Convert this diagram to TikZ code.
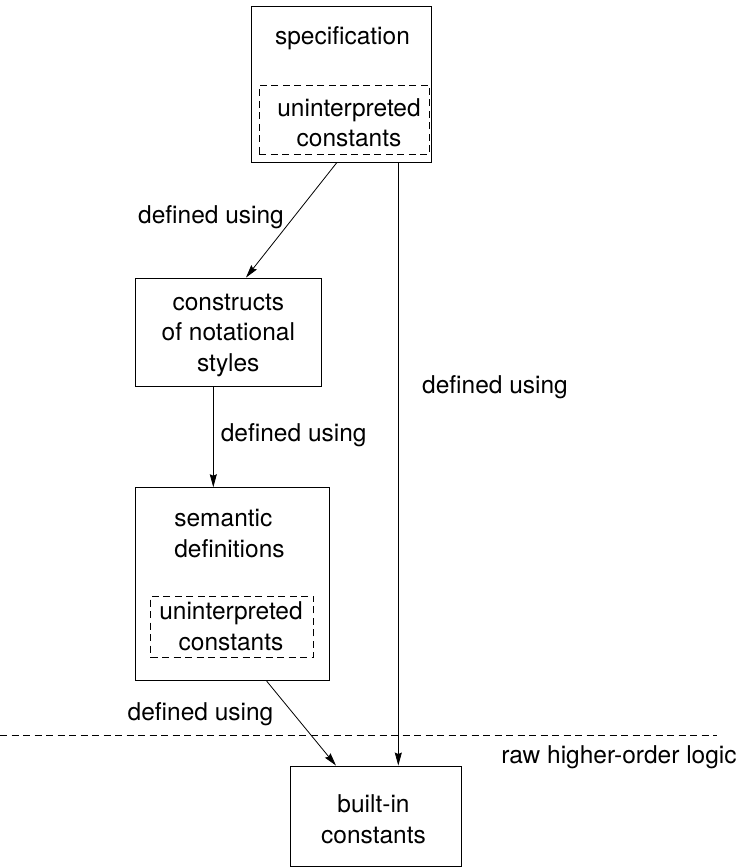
\documentclass[tikz,border=0pt]{standalone}
\usepackage{fontspec}
\setmainfont{TeX Gyre Heros}
\usetikzlibrary{arrows.meta,calc}

\begin{document}
\begin{tikzpicture}[x=1pt,y=-1pt,
  every node/.style={font=\fontsize{24.5}{30.5}\selectfont, inner sep=0pt},
  box/.style={draw, line width=0.9pt, rectangle, inner sep=0pt},
  dbox/.style={draw, line width=0.8pt, dash pattern=on 7pt off 4.5pt, rectangle, inner sep=0pt},
  txt/.style={anchor=base, align=center},
  arr/.style={line width=0.8pt, -{Stealth[length=13pt,width=7pt,inset=1.5pt]}},
  sepline/.style={line width=0.8pt, dash pattern=on 7pt off 4.5pt}]
\useasboundingbox (0,0) rectangle (740,867);

% boxes
\node[box, minimum width=180pt, minimum height=155.6pt] (spec) at (341.7,84.5) {};
\node[dbox, minimum width=170pt, minimum height=69.7pt] (specU) at (344.3,119.85) {};
\node[box, minimum width=186pt, minimum height=108.7pt] (cons) at (228.7,332.35) {};
\node[box, minimum width=193.6pt, minimum height=193pt] (sem) at (232.5,584.2) {};
\node[dbox, minimum width=163pt, minimum height=61.3pt] (semU) at (232.2,626.65) {};
\node[box, minimum width=171pt, minimum height=100pt] (built) at (376.2,816) {};

% texts inside boxes (anchored at the baseline of the last line)
\node[txt] (specT) at (342.5,45) {specification};
\node[txt] (specUT) at (349,146.7) {uninterpreted\\constants};
\node[txt] (consT) at (228.3,371) {constructs\\of notational\\styles};
\node[txt, align=left] (semT) at (229.5,557) {semantic\\definitions};
\node[txt] (semUT) at (231,650) {uninterpreted\\constants};
\node[txt] (builtT) at (373.5,843) {built-in\\constants};

% connectors
\draw[arr] ([xshift=-5pt]spec.south) -- ([xshift=17.3pt]cons.north);
\draw[arr] ([xshift=-15.4pt]cons.south) -- ([xshift=-19.2pt]sem.north);
\draw[arr] ([xshift=34.2pt]sem.south) -- ([xshift=-40.2pt]built.north);
\draw[arr] ([xshift=56.6pt]spec.south) -- ([xshift=22.1pt]built.north);

% connector labels
\node[txt] (l1) at (211,223.5) {defined using};
\node[txt] (l2) at (293.7,441.7) {defined using};
\node[txt] (l3) at (200.5,720) {defined using};
\node[txt] (l4) at (495,393) {defined using};

% boundary of raw higher-order logic
\coordinate (sepL) at (0,735);
\coordinate (sepR) at (717,735);
\draw[sepline] (sepL) -- (sepR);
\node[txt] (raw) at (619,763) {raw higher-order logic};
\end{tikzpicture}
\end{document}
